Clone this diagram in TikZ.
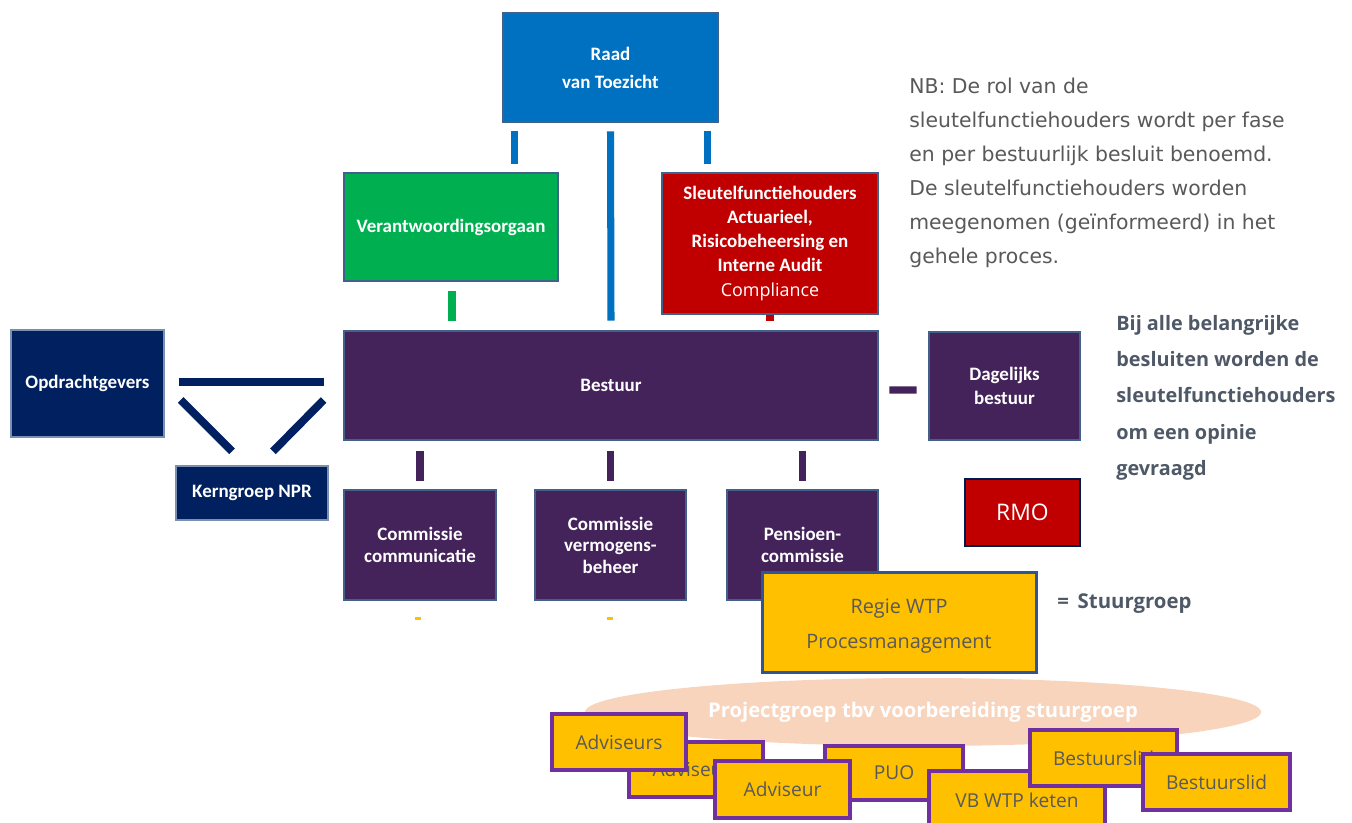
\documentclass[tikz,border=0pt]{standalone}
\usepackage{fontspec}
\setmainfont{Carlito}
\newfontfamily\notefont{DejaVu Sans}
\newfontfamily\plainfont{Open Sans}
\usetikzlibrary{calc, positioning, shapes.geometric}
\definecolor{raadblue}{HTML}{0070C0}
\definecolor{vogreen}{HTML}{00B050}
\definecolor{sfhred}{HTML}{C00000}
\definecolor{bestpurple}{HTML}{44235A}
\definecolor{opdrnavy}{HTML}{002060}
\definecolor{boxedge}{HTML}{41618B}
\definecolor{wtpyellow}{HTML}{FFC000}
\definecolor{wtpedge}{HTML}{2F5597}
\definecolor{teampurple}{HTML}{7030A0}
\definecolor{peach}{HTML}{F8D4BC}
\definecolor{notegray}{HTML}{595959}
\definecolor{slategray}{HTML}{4E5866}

\begin{document}
\begin{tikzpicture}[x=0.02cm, y=-0.02cm,
sz/.style 2 args = {minimum width=#1*0.02cm, minimum height=#2*0.02cm},
orgbox/.style = {draw=boxedge, line width=1.6pt, text=white, align=center, inner sep=0pt, font=\bfseries\fontsize{10.8}{13.6}\selectfont},
navybox/.style = {orgbox, fill=opdrnavy, draw=boxedge!70!white, line width=0.8pt},
purplebox/.style = {orgbox, fill=bestpurple},
wtpbox/.style = {draw=wtpedge, fill=wtpyellow, line width=1.7pt, text=notegray, align=center, inner sep=0pt, font=\plainfont\fontsize{11.3}{20.4}\selectfont},
teambox/.style = {draw=teampurple, fill=wtpyellow, line width=2.2pt, text=notegray, inner sep=0pt, font=\plainfont\fontsize{10.9}{12}\selectfont},
bar/.style = {line width=4pt},
bluebar/.style = {bar, draw=raadblue},
purplebar/.style = {bar, draw=bestpurple},
navyline/.style = {line width=4.5pt, draw=opdrnavy}
]
\useasboundingbox (0,0) rectangle (1352,822);

% toezicht en organen
\node[orgbox, fill=raadblue, sz={215}{109}, font=\bfseries\fontsize{10.8}{15.9}\selectfont] (raad) at (610.5,67.5) {Raad\\van Toezicht};
\node[orgbox, fill=vogreen, sz={214}{108}] (vo) at (451,227) {Verantwoordingsorgaan};
\node[orgbox, fill=sfhred, sz={216}{141}] (sfh) at (770,243.5) {Sleutelfunctiehouders\\Actuarieel,\\Risicobeheersing en\\Interne Audit\\[1pt]{\plainfont\mdseries\fontsize{10.2}{12}\selectfont Compliance}};

% bestuur
\node[purplebox, sz={534}{109}] (bestuur) at (611,385.5) {Bestuur};
\node[purplebox, sz={151}{108}] (db) at (1004.5,386) {Dagelijks\\bestuur};
\node[navybox, sz={153}{107}] (opdr) at (87.5,383.5) {Opdrachtgevers};
\node[navybox, sz={152}{54}] (kern) at (252,493) {Kerngroep NPR};

% commissies
\node[purplebox, sz={152}{110}, font=\bfseries\fontsize{10.8}{12.2}\selectfont] (ccom) at (420,545) {Commissie\\communicatie};
\node[purplebox, sz={151}{110}, font=\bfseries\fontsize{10.8}{12.2}\selectfont] (cvb) at (610.5,545) {Commissie\\vermogens-\\beheer};
\node[purplebox, sz={151}{110}, font=\bfseries\fontsize{10.8}{12.2}\selectfont] (pc) at (802.5,545) {Pensioen-\\commissie};

\node[orgbox, fill=sfhred, draw=opdrnavy!80!black, sz={115}{67}, font=\plainfont\mdseries\fontsize{13}{15}\selectfont] (rmo) at (1022.5,512.5) {RMO};

% lijnen
\draw[bluebar] ([shift={(13,8)}]raad.south west) -- ++(0,33);
\draw[bluebar] ([shift={(0,8)}]raad.south) -- ([shift={(0,-9)}]bestuur.north);
\draw[bluebar] ([shift={(-12,8)}]raad.south east) -- ++(0,33);
\draw[bar, draw=vogreen] ([shift={(1,9)}]vo.south) -- ([shift={(1,-9)}]vo.south |- bestuur.north);
\draw[bar, draw=sfhred] (sfh.south) -- ([shift={(0,-9)}]bestuur.north -| sfh.south);
\draw[purplebar] ([shift={(10,4.5)}]bestuur.east) -- ([shift={(-11,4)}]db.west);
\foreach \c in {ccom, cvb, pc}
  \draw[purplebar] ([shift={(0,10)}]bestuur.south -| \c.north) -- ([shift={(0,-8)}]\c.north);
\draw[line width=1.7pt, draw=wtpyellow] ([shift={(-5,17)}]ccom.south) -- ++(6,0);
\draw[line width=1.7pt, draw=wtpyellow] ([shift={(-4,17)}]cvb.south) -- ++(6,0);
\draw[navyline] ([shift={(14,-1.5)}]opdr.east) -- ([shift={(-19,-3.5)}]bestuur.west);
\draw[navyline] ([shift={(16,16.5)}]opdr.east) -- ([shift={(-20,-14)}]kern.north);
\draw[navyline] ([shift={(-19,14.5)}]bestuur.west) -- ([shift={(21,-14)}]kern.north);

% stuurgroep en projectgroep
\node[ellipse, fill=peach, sz={676}{68}, text=white, inner sep=0pt, font=\plainfont\bfseries\fontsize{11.5}{13}\selectfont] (proj) at (923,712) {Projectgroep tbv voorbereiding stuurgroep};
\node[wtpbox, sz={274}{100}] (regie) at (899,622) {\rule{0pt}{13pt}Regie WTP\\Procesmanagement};
\node[anchor=west, text=slategray, inner sep=0pt, font=\plainfont\bfseries\fontsize{11.6}{14}\selectfont] (stuur) at (1057,604) {=\, Stuurgroep};

\node[teambox, sz={134}{55}] (adv2) at (696,769.5) {Adviseurs};
\node[teambox, sz={134}{56}] (adv1) at (619,742) {Adviseurs};
\node[teambox, sz={138}{54}] (puo) at (894,773) {PUO};
\node[teambox, sz={135}{57}] (adv3) at (782.5,789.5) {Adviseur};
\node[teambox, sz={176}{58}] (vb) at (1017,800) {VB WTP keten};
\node[teambox, sz={147}{56}] (bl1) at (1103.5,758) {Bestuurslid};
\node[teambox, sz={147}{56}] (bl2) at (1216.5,782) {Bestuurslid};

% toelichting
\node[anchor=north west, align=left, text=notegray, inner sep=0pt, font=\notefont\fontsize{11.6}{19.3}\selectfont] (nb) at (909,78) {NB: De rol van de\\sleutelfunctiehouders wordt per fase\\en per bestuurlijk besluit benoemd.\\De sleutelfunctiehouders worden\\meegenomen (geïnformeerd) in het\\gehele proces.};
\node[anchor=north west, align=left, text=slategray, inner sep=0pt, font=\plainfont\bfseries\fontsize{11.3}{20.6}\selectfont] (advies) at (1116,315) {Bij alle belangrijke\\besluiten worden de\\sleutelfunctiehouders\\om een opinie\\gevraagd};
\end{tikzpicture}
\end{document}
